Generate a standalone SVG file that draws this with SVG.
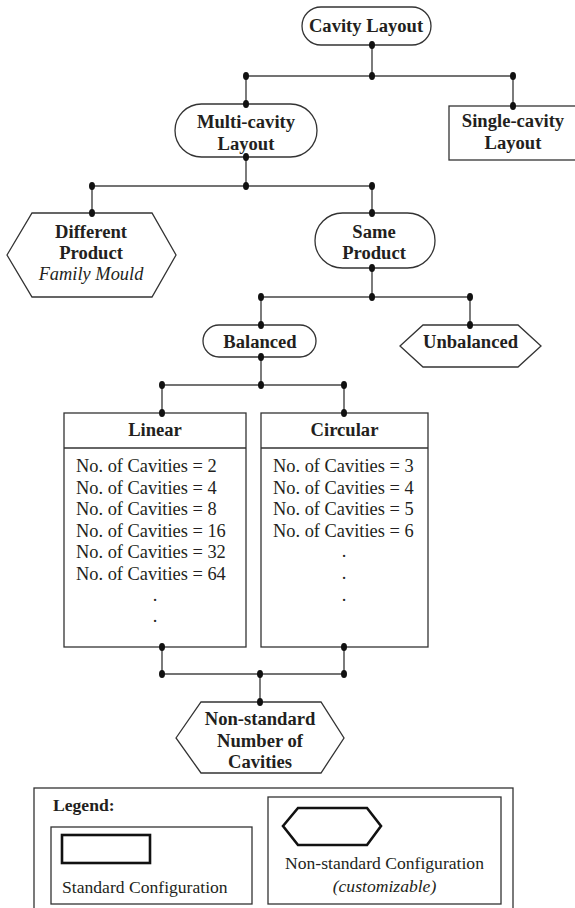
<svg xmlns="http://www.w3.org/2000/svg" width="575" height="908" viewBox="0 0 575 908" font-family="'Liberation Serif', 'DejaVu Serif', serif">
<style>
.shape{fill:#fff;stroke:#333;stroke-width:1.3}
.thick{fill:#fff;stroke:#111;stroke-width:2.6}
.conn line{stroke:#444;stroke-width:1.4}
.conn ellipse{fill:#111}
text{font-family:'Liberation Serif', 'DejaVu Serif', serif;fill:#231f20;font-size:18.4px}
.b{font-weight:bold;font-size:18.6px}
.c{text-anchor:middle}
.i{font-style:italic}
.lg{font-size:17.6px}
</style>
<rect width="575" height="908" fill="#fff"/>

<g id="cavity-layout">
<rect class="shape" x="302" y="7" width="129" height="38" rx="19"/>
<text class="b c" x="366" y="32">Cavity Layout</text>
</g>
<g id="multi-cavity">
<rect class="shape" x="175" y="104" width="142" height="53" rx="26.5"/>
<text class="b c" x="246" y="128">Multi-cavity</text>
<text class="b c" x="246" y="150">Layout</text>
</g>
<g id="single-cavity">
<rect class="shape" x="449" y="106" width="128" height="54"/>
<text class="b c" x="513" y="127">Single-cavity</text>
<text class="b c" x="513" y="149">Layout</text>
</g>
<g id="different-product">
<polygon class="shape" points="7,255 32,213 152,213 176,255 152,297 32,297"/>
<text class="b c" x="91" y="238">Different</text>
<text class="b c" x="91" y="259">Product</text>
<text class="i c" x="91" y="280">Family Mould</text>
</g>
<g id="same-product">
<rect class="shape" x="315" y="213" width="120" height="55" rx="27.5"/>
<text class="b c" x="374" y="238">Same</text>
<text class="b c" x="374" y="259">Product</text>
</g>
<g id="balanced">
<rect class="shape" x="203" y="325" width="113" height="32" rx="16"/>
<text class="b c" x="260" y="348">Balanced</text>
</g>
<g id="unbalanced">
<polygon class="shape" points="400,346 423,325 518,325 541,346 518,367 423,367"/>
<text class="b c" x="470.5" y="348">Unbalanced</text>
</g>
<g id="linear">
<rect class="shape" x="64" y="413" width="182" height="234"/>
<line x1="64" y1="448" x2="246" y2="448" stroke="#333" stroke-width="1.3"/>
<text class="b c" x="155" y="436">Linear</text>
<text x="76" y="472">No. of Cavities = 2</text>
<text x="76" y="493.5">No. of Cavities = 4</text>
<text x="76" y="515">No. of Cavities = 8</text>
<text x="76" y="536.5">No. of Cavities = 16</text>
<text x="76" y="558">No. of Cavities = 32</text>
<text x="76" y="579.5">No. of Cavities = 64</text>
<text class="c" x="155" y="601">.</text>
<text class="c" x="155" y="622">.</text>
</g>
<g id="circular">
<rect class="shape" x="261" y="413" width="167" height="234"/>
<line x1="261" y1="448" x2="428" y2="448" stroke="#333" stroke-width="1.3"/>
<text class="b c" x="344.5" y="436">Circular</text>
<text x="273" y="472">No. of Cavities = 3</text>
<text x="273" y="493.5">No. of Cavities = 4</text>
<text x="273" y="515">No. of Cavities = 5</text>
<text x="273" y="536.5">No. of Cavities = 6</text>
<text class="c" x="344" y="557">.</text>
<text class="c" x="344" y="579">.</text>
<text class="c" x="344" y="601">.</text>
</g>
<g id="non-standard">
<polygon class="shape" points="176,738 201,702 321,702 344,738 321,773 201,773"/>
<text class="b c" x="260" y="725">Non-standard</text>
<text class="b c" x="260" y="747">Number of</text>
<text class="b c" x="260" y="768">Cavities</text>
</g>

<g id="connectors" class="conn">
<line x1="372" y1="45" x2="372" y2="76"/>
<line x1="246" y1="76" x2="513" y2="76"/>
<line x1="246" y1="76" x2="246" y2="104"/>
<line x1="513" y1="76" x2="513" y2="106"/>
<line x1="246" y1="157" x2="246" y2="186"/>
<line x1="92" y1="186" x2="372" y2="186"/>
<line x1="92" y1="186" x2="92" y2="213"/>
<line x1="372" y1="186" x2="372" y2="213"/>
<line x1="372" y1="268" x2="372" y2="297"/>
<line x1="261" y1="297" x2="470" y2="297"/>
<line x1="261" y1="297" x2="261" y2="325"/>
<line x1="470" y1="297" x2="470" y2="325"/>
<line x1="261" y1="357" x2="261" y2="385"/>
<line x1="162" y1="385" x2="344" y2="385"/>
<line x1="162" y1="385" x2="162" y2="413"/>
<line x1="344" y1="385" x2="344" y2="413"/>
<line x1="162" y1="647" x2="162" y2="674"/>
<line x1="344" y1="647" x2="344" y2="674"/>
<line x1="162" y1="674" x2="344" y2="674"/>
<line x1="260" y1="674" x2="260" y2="702"/>
<ellipse cx="372" cy="45" rx="3" ry="4"/>
<ellipse cx="372" cy="76" rx="3" ry="4"/>
<ellipse cx="246" cy="76" rx="3" ry="4"/>
<ellipse cx="513" cy="76" rx="3" ry="4"/>
<ellipse cx="246" cy="104" rx="3" ry="4"/>
<ellipse cx="513" cy="106" rx="3" ry="4"/>
<ellipse cx="246" cy="157" rx="3" ry="4"/>
<ellipse cx="246" cy="186" rx="3" ry="4"/>
<ellipse cx="92" cy="186" rx="3" ry="4"/>
<ellipse cx="372" cy="186" rx="3" ry="4"/>
<ellipse cx="92" cy="213" rx="3" ry="4"/>
<ellipse cx="372" cy="213" rx="3" ry="4"/>
<ellipse cx="372" cy="268" rx="3" ry="4"/>
<ellipse cx="372" cy="297" rx="3" ry="4"/>
<ellipse cx="261" cy="297" rx="3" ry="4"/>
<ellipse cx="470" cy="297" rx="3" ry="4"/>
<ellipse cx="261" cy="325" rx="3" ry="4"/>
<ellipse cx="470" cy="325" rx="3" ry="4"/>
<ellipse cx="261" cy="357" rx="3" ry="4"/>
<ellipse cx="261" cy="385" rx="3" ry="4"/>
<ellipse cx="162" cy="385" rx="3" ry="4"/>
<ellipse cx="344" cy="385" rx="3" ry="4"/>
<ellipse cx="162" cy="413" rx="3" ry="4"/>
<ellipse cx="344" cy="413" rx="3" ry="4"/>
<ellipse cx="162" cy="647" rx="3" ry="4"/>
<ellipse cx="344" cy="647" rx="3" ry="4"/>
<ellipse cx="162" cy="674" rx="3" ry="4"/>
<ellipse cx="344" cy="674" rx="3" ry="4"/>
<ellipse cx="260" cy="674" rx="3" ry="4"/>
<ellipse cx="260" cy="702" rx="3" ry="4"/>
</g>

<g id="legend">
<rect class="shape" x="34" y="788" width="479" height="130"/>
<text class="b lg" x="53" y="811">Legend:</text>
<rect class="shape" x="51" y="827" width="201" height="77"/>
<rect class="thick" x="62" y="835" width="88" height="28"/>
<text class="lg" x="62" y="893">Standard Configuration</text>
<rect class="shape" x="268" y="797" width="233" height="107"/>
<polygon class="thick" points="283,826 298,808 367,808 381,826 367,845 298,845"/>
<text class="lg c" x="384.5" y="869">Non-standard Configuration</text>
<text class="lg c i" x="384.5" y="892">(customizable)</text>
</g>
</svg>
